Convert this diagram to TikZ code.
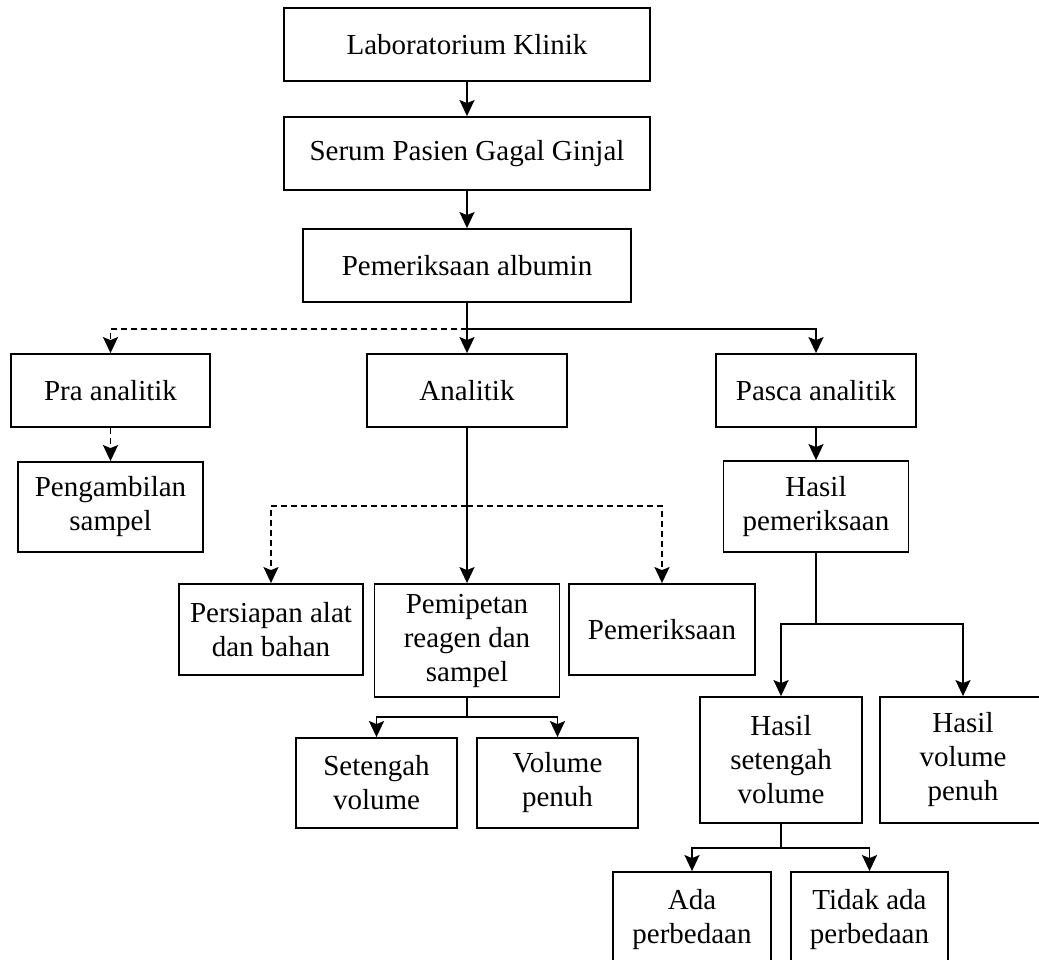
\documentclass[tikz,border=0pt]{standalone}
\usepackage{fontspec}
\setmainfont{Liberation Serif}
\usetikzlibrary{arrows.meta}

\begin{document}
\begin{tikzpicture}[
    x=1pt, y=-1pt,
    box/.style={rectangle, draw, line width=1.8pt, align=center, inner sep=0pt, font=\fontsize{29}{34}\selectfont},
    arrow/.style={-{Stealth[length=16pt, width=15pt, inset=3pt]}, line width=1.8pt},
    dasharrow/.style={arrow, dash pattern=on 6pt off 4pt}
]

% Page frame (bottom and right boxes run off the page)
\useasboundingbox (0,0) rectangle (1039,960);
\clip (0,0) rectangle (1039,960);

% Top chain
\node[box, minimum width=366pt, minimum height=73pt] (lab) at (467,44.5) {Laboratorium Klinik};
\node[box, minimum width=366pt, minimum height=73pt] (serum) at (467,153.5) {Serum Pasien Gagal Ginjal};
\node[box, minimum width=328pt, minimum height=73pt] (albumin) at (467,265.5) {Pemeriksaan albumin};

% Three stages
\node[box, minimum width=199pt, minimum height=73pt] (pra) at (110.5,390.5) {Pra analitik};
\node[box, minimum width=200pt, minimum height=73pt] (analitik) at (467,390.5) {Analitik};
\node[box, minimum width=200pt, minimum height=73pt] (pasca) at (816,390.5) {Pasca analitik};

% Pra analitik branch
\node[box, minimum width=185pt, minimum height=90pt] (ambil) at (110.5,507) {Pengambilan\\sampel};

% Analitik branch
\node[box, minimum width=184pt, minimum height=91pt] (persiapan) at (271,629.5) {Persiapan alat\\dan bahan};
\node[box, minimum width=185pt, minimum height=113pt] (pemipetan) at (467,640.5) {Pemipetan\\reagen dan\\sampel};
\node[box, minimum width=186pt, minimum height=91pt] (periksa) at (662,629.5) {Pemeriksaan};
\node[box, minimum width=161pt, minimum height=90pt] (setengah) at (376.5,783) {Setengah\\volume};
\node[box, minimum width=161pt, minimum height=90pt] (penuh) at (557.5,783) {Volume\\penuh};

% Pasca analitik branch
\node[box, minimum width=185pt, minimum height=91pt] (hasil) at (816,506.5) {Hasil\\pemeriksaan};
\node[box, minimum width=162pt, minimum height=126pt] (hsetengah) at (781,760) {Hasil\\setengah\\volume};
\node[box, minimum width=166pt, minimum height=126pt] (hpenuh) at (963,760) {Hasil\\volume\\penuh};
\node[box, minimum width=158pt, minimum height=96pt] (ada) at (692,920) {Ada\\perbedaan};
\node[box, minimum width=157pt, minimum height=96pt] (tidak) at (869.5,920) {Tidak ada\\perbedaan};

% Branch points
\coordinate (split1) at (467,329);
\coordinate (split2) at (467,506);
\coordinate (split3) at (467,717);
\coordinate (split4) at (816,624);
\coordinate (split5) at (781,848);

% Connectors
\draw[arrow] (lab) -- (serum);
\draw[arrow] (serum) -- (albumin);
\draw[arrow] (albumin) -- (analitik);
\draw[arrow] (split1) -| (pasca.north);
\draw[dasharrow] (split1) -| (pra.north);
\draw[dasharrow] (pra) -- (ambil);
\draw[arrow] (analitik) -- (pemipetan);
\draw[dasharrow] (split2) -| (persiapan.north);
\draw[dasharrow] (split2) -| (periksa.north);
\draw[arrow] (pemipetan.south) -- (split3) -| (setengah.north);
\draw[arrow] (split3) -| (penuh.north);
\draw[arrow] (pasca) -- (hasil);
\draw[arrow] (hasil.south) -- (split4) -| (hsetengah.north);
\draw[arrow] (split4) -| (hpenuh.north);
\draw[arrow] (hsetengah.south) -- (split5) -| (ada.north);
\draw[arrow] (split5) -| (tidak.north);

\end{tikzpicture}
\end{document}
